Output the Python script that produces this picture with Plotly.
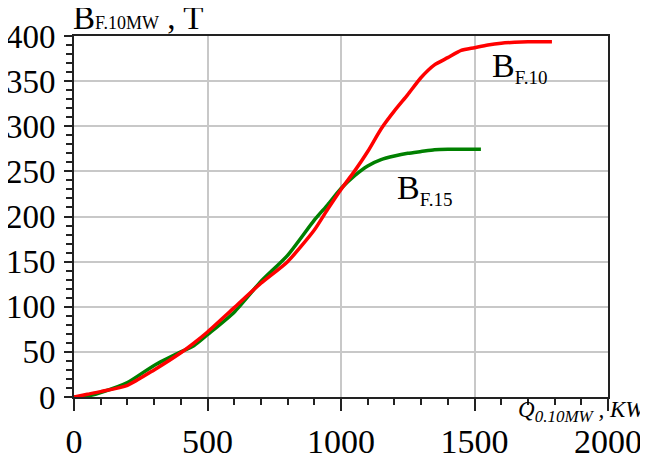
import plotly.graph_objects as go

red_x = [0, 50, 100, 200, 300, 400, 450, 500, 600, 700, 800, 900, 950, 1000, 1050, 1100, 1150,
         1200, 1250, 1300, 1350, 1400, 1450, 1500, 1550, 1600, 1650, 1700, 1790]
red_y = [0, 3, 6, 13, 30, 49, 60, 72, 99, 126, 150, 185, 208, 230, 250, 272, 297,
         317, 335, 354, 368, 376, 384, 387, 390, 392, 393, 393.5, 393.5]

green_x = [0, 50, 100, 200, 300, 400, 450, 500, 600, 700, 800, 900, 950, 1000, 1050, 1100, 1150,
           1200, 1250, 1300, 1350, 1400, 1524]
green_y = [0, 1, 5, 16, 35, 50, 57, 69, 94, 128, 157, 196, 213, 231, 245, 256, 263,
           267, 270, 272, 274, 274.5, 274.5]

FONT = "Liberation Serif"

fig = go.Figure()
fig.add_trace(go.Scatter(x=green_x, y=green_y, mode="lines",
                         line=dict(color="#008000", width=3.5, shape="spline", smoothing=0.6),
                         showlegend=False))
fig.add_trace(go.Scatter(x=red_x, y=red_y, mode="lines",
                         line=dict(color="#ff0000", width=3.5, shape="spline", smoothing=0.6),
                         showlegend=False))

fig.update_layout(
    width=640, height=452,
    margin=dict(l=66, r=40, t=28, b=63),
    paper_bgcolor="white", plot_bgcolor="white",
    font=dict(family=FONT, color="black", size=34),
    xaxis=dict(range=[0, 2000], tickvals=[0, 500, 1000, 1500, 2000], automargin=False,
               showgrid=True, gridcolor="#c8c8c8", gridwidth=2,
               zeroline=False, showline=True, linecolor="#222", linewidth=2, mirror=True,
               ticks="outside", ticklen=12, tickwidth=2, tickcolor="#222",
               ticklabelstandoff=1,
               tickfont=dict(size=34, family=FONT),
               minor=dict(dtick=100, ticks="outside", ticklen=6, tickwidth=2,
                          tickcolor="#222", showgrid=False)),
    yaxis=dict(range=[0, 400], tickvals=list(range(0, 401, 50)), automargin=False,
               showgrid=True, gridcolor="#c8c8c8", gridwidth=2,
               zeroline=False, showline=True, linecolor="#222", linewidth=2, mirror=True,
               ticks="outside", ticklen=8, tickwidth=2, tickcolor="#222",
               ticklabelstandoff=2,
               tickfont=dict(size=33, family=FONT),
               minor=dict(dtick=10, ticks="outside", ticklen=6, tickwidth=2,
                          tickcolor="#222", showgrid=False)),
    annotations=[
        dict(text="B<span style='font-size:18px'>F.10MW</span> , T",
             xref="paper", yref="paper", x=-0.006, y=0.994,
             xanchor="left", yanchor="bottom", showarrow=False,
             font=dict(size=33, family=FONT)),
        dict(text="<i>Q<sub><span style='font-size:17px'>0.10MW</span></sub> , KW</i>",
             xref="paper", yref="paper", x=1.075, y=0.006,
             xanchor="right", yanchor="top", showarrow=False,
             font=dict(size=23, family=FONT)),
        dict(text="B<sub><span style='font-size:19px'>F.10</span></sub>", xref="x", yref="y",
             x=1558, y=365, xanchor="left", yanchor="middle", showarrow=False,
             font=dict(size=34, family=FONT)),
        dict(text="B<sub><span style='font-size:19px'>F.15</span></sub>", xref="x", yref="y",
             x=1202, y=230, xanchor="left", yanchor="middle", showarrow=False,
             font=dict(size=34, family=FONT)),
    ],
)

fig.write_html("out.html")
